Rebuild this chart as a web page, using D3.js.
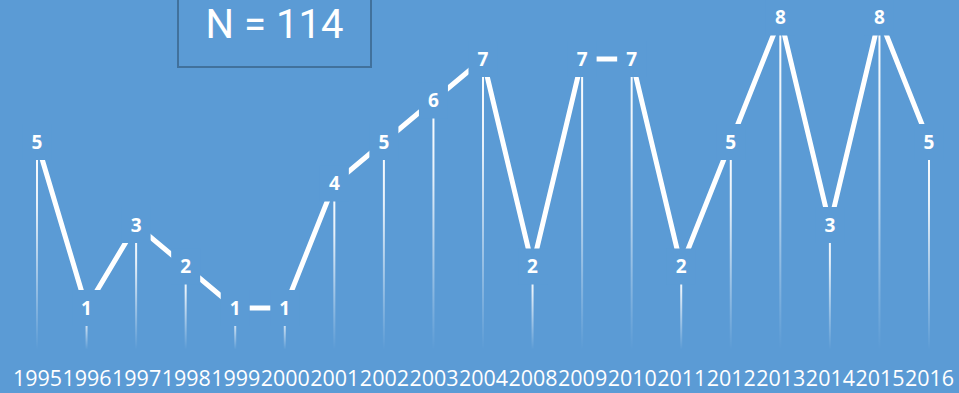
<!DOCTYPE html>
<html>
<head>
<meta charset="utf-8">
<script src="https://cdn.jsdelivr.net/npm/d3@7"></script>
<style>
  html, body { margin: 0; padding: 0; background: #5b9bd5; }
  svg { display: block; }
</style>
</head>
<body>
<svg id="chart" width="959" height="393"></svg>
<script>
// Yearly counts
const years = ["1995","1996","1997","1998","1999","2000","2001","2002","2003","2004",
               "2008","2009","2010","2011","2012","2013","2014","2015","2016"];
const counts = [5, 1, 3, 2, 1, 1, 4, 5, 6, 7, 2, 7, 7, 2, 5, 8, 3, 8, 5];
const titleText = "N = 114";

const W = 959, H = 393;
const bg = "#5b9bd5";
const svg = d3.select("#chart");

svg.append("rect").attr("width", W).attr("height", H).attr("fill", bg);

const x = d3.scalePoint().domain(years).range([37, 929]);
const y = d3.scaleLinear().domain([0, 8]).range([349.5, 17.5]);
const step = x.step();

// vertical fade for the drop lines
const defs = svg.append("defs");
const grad = defs.append("linearGradient")
  .attr("id", "fade").attr("x1", 0).attr("y1", 0).attr("x2", 0).attr("y2", 1);
grad.append("stop").attr("offset", "0%").attr("stop-color", "#fff").attr("stop-opacity", 1);
grad.append("stop").attr("offset", "30%").attr("stop-color", "#fff").attr("stop-opacity", 0.85);
grad.append("stop").attr("offset", "100%").attr("stop-color", "#fff").attr("stop-opacity", 0);

const data = years.map((yr, i) => ({ yr, v: counts[i] }));

// drop lines from each point to the baseline
svg.append("g").selectAll("rect").data(data).join("rect")
  .attr("x", d => x(d.yr) - 1)
  .attr("y", d => y(d.v))
  .attr("width", 2)
  .attr("height", d => y(0) - y(d.v))
  .attr("fill", "url(#fade)");

// main line
svg.append("path")
  .datum(data)
  .attr("fill", "none")
  .attr("stroke", "#fff")
  .attr("stroke-width", 5)
  .attr("stroke-linejoin", "miter")
  .attr("d", d3.line().x(d => x(d.yr)).y(d => y(d.v)));

// value labels on a background-coloured box
const lab = svg.append("g").selectAll("g").data(data).join("g")
  .attr("transform", d => `translate(${x(d.yr)},${y(d.v)})`);
lab.append("rect")
  .attr("x", -14.5).attr("y", -18).attr("width", 29).attr("height", 36)
  .attr("fill", bg);
lab.append("text")
  .attr("text-anchor", "middle")
  .attr("dy", "0.36em")
  .attr("fill", "#fff")
  .attr("font-family", "'Open Sans', sans-serif")
  .attr("font-weight", "bold")
  .attr("font-size", 19)
  .text(d => d.v);

// category axis
const axis = svg.append("g").attr("transform", `translate(0,${y(0)})`)
  .call(d3.axisBottom(x).tickSize(0).tickPadding(0));
axis.select(".domain").remove();
axis.selectAll("text")
  .attr("y", 0)
  .attr("dy", 0)
  .attr("transform", "translate(0,36)")
  .attr("fill", "#fff")
  .attr("font-family", "'Open Sans', sans-serif")
  .attr("font-size", 21)
  .attr("textLength", step - 0.5)
  .attr("lengthAdjust", "spacingAndGlyphs");

// title box
svg.append("rect")
  .attr("x", 178).attr("y", -10).attr("width", 193).attr("height", 77)
  .attr("fill", bg).attr("stroke", "#41719c").attr("stroke-width", 2);
svg.append("text")
  .attr("x", 274.5).attr("y", 38)
  .attr("text-anchor", "middle")
  .attr("fill", "#fff")
  .attr("font-family", "Roboto, sans-serif")
  .attr("font-size", 40)
  .text(titleText);
</script>
</body>
</html>
